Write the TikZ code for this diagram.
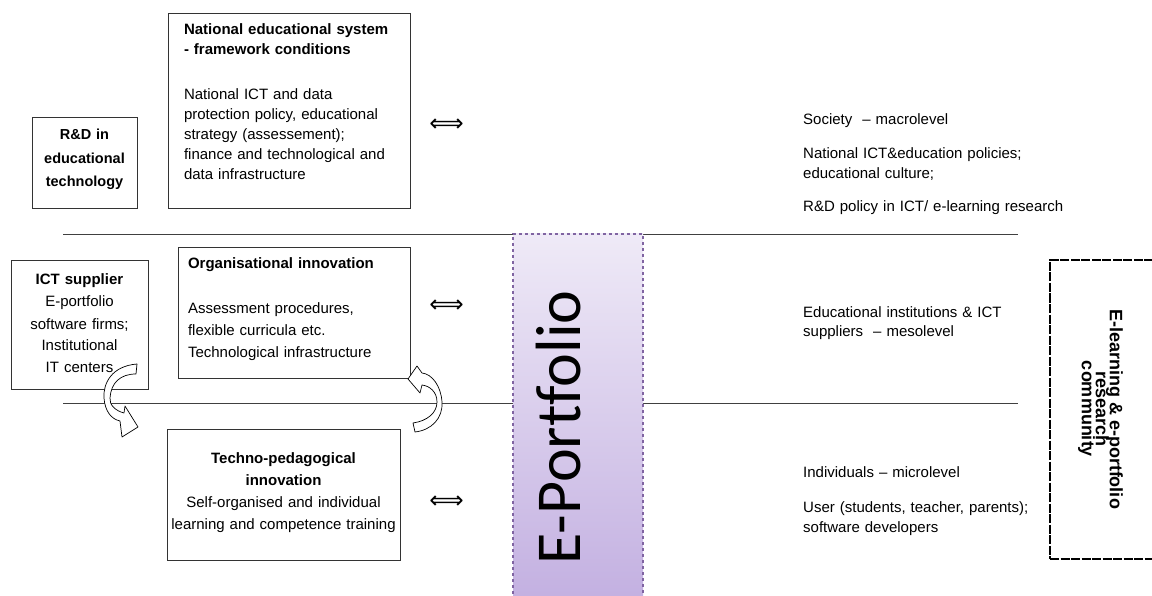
\documentclass[tikz,border=0pt]{standalone}
\usepackage{fontspec}
\setmainfont{Liberation Sans}
\newfontfamily\epfont[Ligatures=NoCommon]{Carlito}
\newfontfamily\dblfont{DejaVu Sans}
\definecolor{eptop}{HTML}{EFEAF7}
\definecolor{epbottom}{HTML}{C3B0E1}
\definecolor{epborder}{HTML}{8064A2}

\begin{document}
\begin{tikzpicture}[x=1pt, y=-1pt,
    frame box/.style={draw=black!80, line width=0.8pt, inner sep=0pt, text height=11pt},
    level text/.style={anchor=base west, align=left, inner sep=0pt, text width=280pt},
    equiv sign/.style={inner sep=0pt, font=\dblfont\fontsize{24}{24}\selectfont},
    bend arrow/.style={draw=black, fill=white, line width=0.7pt, line join=round}]
    \useasboundingbox (0,0) rectangle (1152,596);

    % Level lines
    \draw[black!75, line width=0.9pt] (63,234) -- (1018,234);
    \draw[black!75, line width=0.9pt] (63,403) -- (1018,403);

    % E-Portfolio column
    \shade[top color=eptop, bottom color=epbottom] (513,234) rectangle (643,600);
    \draw[epborder, line width=1.3pt, dashed] (513,600) -- (513,234) -- (643,234) -- (643,600);
    \node[rotate=90, anchor=base, inner sep=0pt, font=\epfont\fontsize{64}{64}\selectfont] (eport) at (580,427.5) {E-Portfolio};

    % Boxes on the left
    \node[frame box, minimum width=105pt, minimum height=91pt, text width=105pt, align=center, text depth=56pt, font=\bfseries\fontsize{14.5}{23.5}\selectfont] (rnd) at (84.5,162.5) {R\&D in\\ educational\\ technology};
    \node[frame box, minimum width=242pt, minimum height=195pt, text width=210pt, align=left, text depth=162pt, font=\fontsize{15}{20}\selectfont] (natsys) at (289,110.5)
        {\textbf{National educational system}\\ \textbf{- framework conditions}\\[25pt] National ICT and data\\ protection policy, educational\\ strategy (assessement);\\ finance and technological and\\ data infrastructure};
    \node[frame box, minimum width=137pt, minimum height=129pt, text width=137pt, align=center, text depth=90pt, font=\fontsize{15}{22}\selectfont] (ictsup) at (79.5,324.5)
        {\textbf{ICT supplier}\\ E-portfolio\\ software firms;\\ Institutional\\ IT centers};
    \node[frame box, minimum width=232pt, minimum height=131pt, text width=212pt, align=left, text depth=98pt, font=\fontsize{15}{22}\selectfont] (orginn) at (294,312.5)
        {\textbf{Organisational innovation}\\[23pt] Assessment procedures,\\ flexible curricula etc.\\ Technological infrastructure};
    \node[frame box, minimum width=233pt, minimum height=131pt, text width=233pt, align=center, text depth=74pt, font=\fontsize{15}{22}\selectfont] (techped) at (283.5,494.5)
        {\textbf{Techno-pedagogical}\\ \textbf{innovation}\\ Self-organised and individual\\ learning and competence training};

    % Curved arrows
    \draw[bend arrow] (137,364) .. controls (112,366) and (103,383) .. (104,398)
        .. controls (105,411) and (111,419) .. (120,421)
        -- (122,437) -- (138,427) -- (125,406) -- (124,413)
        .. controls (116,411) and (109,405) .. (110,398)
        .. controls (111,383) and (120,374) .. (136,374) -- cycle;
    \draw[bend arrow] (415,432) .. controls (432,430) and (443,418) .. (442,402)
        .. controls (441,386) and (432,374) .. (422,373)
        -- (417,366) -- (408,379) -- (420,393) -- (422,385)
        .. controls (430,386) and (437,392) .. (437,402)
        .. controls (437,413) and (427,421) .. (413,423) -- cycle;

    % Equivalence signs
    \foreach \name/\ypos in {eqmacro/125, eqmeso/306, eqmicro/502}
        \node[equiv sign] (\name) at (446.5,\ypos) {⟺};

    % Levels
    \node[level text, font=\fontsize{15}{20}\selectfont] (macro) at (803,125)
        {Society~ – macrolevel\\[14pt] National ICT\&education policies;\\ educational culture;\\[13pt] R\&D policy in ICT/ e-learning research};
    \node[level text, font=\fontsize{15}{19}\selectfont] (meso) at (803,318)
        {Educational institutions \& ICT\\ suppliers~ – mesolevel};
    \node[level text, font=\fontsize{15}{20}\selectfont] (micro) at (803,477)
        {Individuals – microlevel\\[15pt] User (students, teacher, parents);\\ software developers};

    % Research community
    \node[draw=black, line width=1.4pt, dash pattern=on 9pt off 1.5pt, minimum width=112pt, minimum height=299pt] (elcomm) at (1106,409.5) {};
    \node[rotate=-90, align=center, inner sep=0pt, font={\bfseries\fontsize{18}{14}\selectfont\lineskiplimit=-20pt\relax}] (elcommtext) at (1100.5,409)
        {E-learning \& e-portfolio\\ research\\ community};
\end{tikzpicture}
\end{document}
